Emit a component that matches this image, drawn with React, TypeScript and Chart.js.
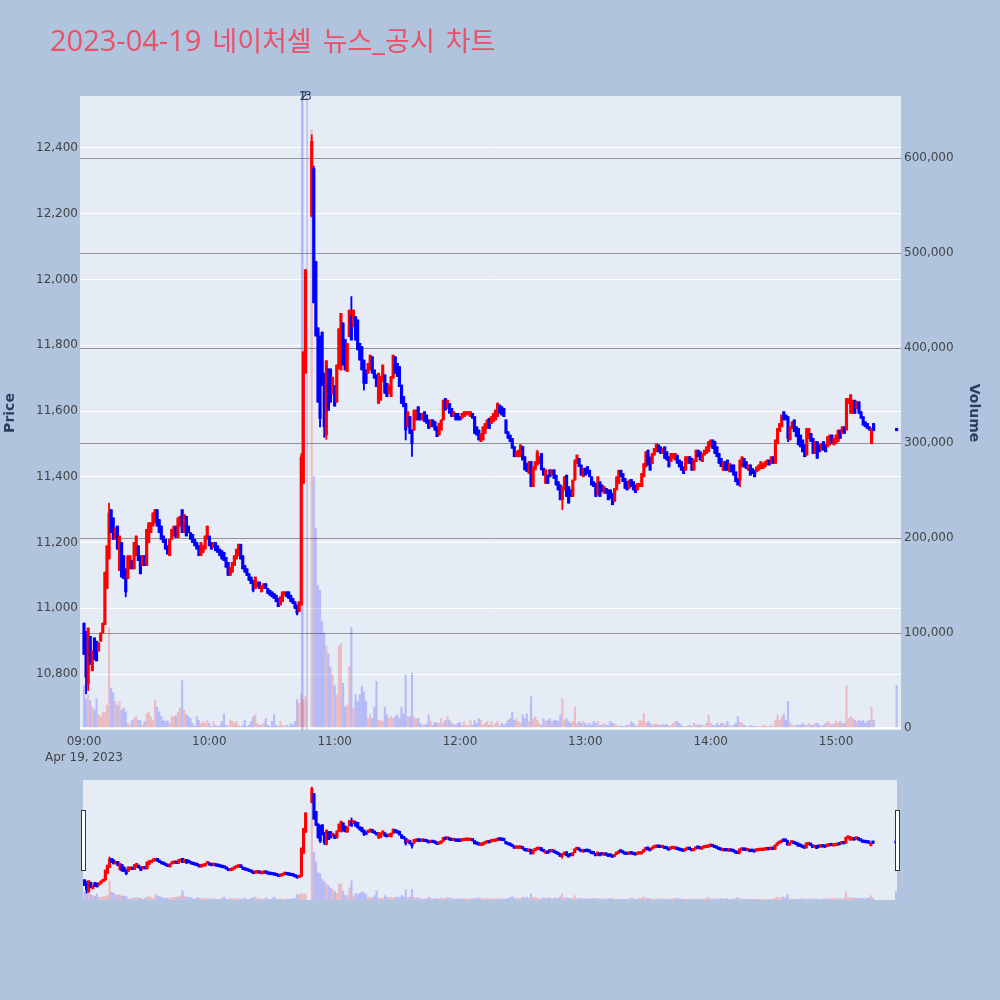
import React, { useEffect, useRef } from 'react';
import { Chart, registerables } from 'chart.js';

Chart.register(...registerables);

// ---------- text ----------
const TITLE = '2023-04-19 네이처셀 뉴스_공시 차트';
const DATE_LABEL = 'Apr 19, 2023';
const PRICE_TITLE = 'Price';
const VOLUME_TITLE = 'Volume';

// ---------- axes ----------
const X_TICKS = [0, 60, 120, 180, 240, 300, 360]; // minutes after 09:00
const X_TICK_LABELS = ['09:00', '10:00', '11:00', '12:00', '13:00', '14:00', '15:00'];
const PRICE_TICKS = [10800, 11000, 11200, 11400, 11600, 11800, 12000, 12200, 12400];
const VOLUME_TICKS = [0, 100000, 200000, 300000, 400000, 500000, 600000];

// ---------- 1-minute candles, index = minutes after 09:00 (null = no trade, VI halt) ----------
const OPEN = [
  10955, 10910, 10770, 10915, 10810, 10910, 10900, 10870, 10900, 10925,
  10950, 11060, 11150, 11300, 11275, 11210, 11250, 11115, 11200, 11160,
  11120, 11090, 11120, 11145, 11120, 11160, 11190, 11160, 11130, 11160,
  11130, 11200, 11230, 11250, 11260, 11300, 11270, 11250, 11220, 11210,
  11190, 11160, 11210, 11220, 11250, 11215, 11250, 11300, 11230, 11280,
  11250, 11230, 11225, 11210, 11200, 11190, 11160, 11170, 11180, 11210,
  11220, 11200, 11185, 11200, 11190, 11180, 11175, 11170, 11155, 11140,
  11100, 11110, 11130, 11150, 11160, 11195, 11160, 11130, 11120, 11105,
  11095, 11085, 11060, 11065, 11080, 11050, 11060, 11075, 11060, 11055,
  11050, 11045, 11040, 11030, 11010, 11020, 11040, 11050, 11050, 11040,
  11030, 11020, 11010, 10990, 11010, 11380, 11715, null, null, 12193,
  12337, 12055, 11853, 11828, 11840, 11715, 11527, 11728, 11728, 11652,
  11677, 11627, 11728, 11725, 11868, 11818, 11720, 11826, 11890, 11856,
  11887, 11877, 11806, 11796, 11755, 11725, 11715, 11725, 11765, 11725,
  11710, 11623, 11633, 11690, 11710, 11684, 11654, 11644, 11700, 11765,
  11745, 11735, 11679, 11644, 11623, 11552, 11583, 11542, 11542, 11573,
  11613, 11593, 11573, 11598, 11588, 11573, 11552, 11573, 11568, 11552,
  11527, 11542, 11573, 11638, 11608, 11623, 11608, 11583, 11593, 11593,
  11583, 11578, 11583, 11588, 11588, 11583, 11593, 11583, 11552, 11542,
  11507, 11512, 11532, 11547, 11578, 11562, 11568, 11573, 11583, 11618,
  11613, 11608, 11573, 11537, 11527, 11517, 11492, 11461, 11461, 11461,
  11492, 11461, 11441, 11410, 11446, 11370, 11421, 11436, 11441, 11471,
  11426, 11380, 11405, 11421, 11405, 11421, 11405, 11385, 11375, 11330,
  11360, 11405, 11370, 11360, 11340, 11390, 11441, 11456, 11436, 11400,
  11426, 11431, 11420, 11400, 11385, 11380, 11345, 11385, 11375, 11350,
  11365, 11360, 11360, 11350, 11325, 11360, 11380, 11420, 11410, 11395,
  11385, 11365, 11392, 11385, 11375, 11360, 11370, 11370, 11400, 11430,
  11481, 11460, 11440, 11466, 11476, 11497, 11491, 11471, 11491, 11476,
  11461, 11446, 11456, 11451, 11466, 11451, 11446, 11430, 11420, 11441,
  11461, 11456, 11420, 11446, 11481, 11476, 11446, 11466, 11471, 11476,
  11491, 11512, 11507, 11491, 11471, 11456, 11420, 11446, 11451, 11415,
  11436, 11436, 11415, 11395, 11390, 11430, 11456, 11446, 11420, 11436,
  11425, 11420, 11415, 11420, 11425, 11425, 11430, 11436, 11451, 11441,
  11461, 11441, 11501, 11537, 11552, 11598, 11588, 11583, 11512, 11547,
  11573, 11552, 11547, 11527, 11512, 11497, 11466, 11517, 11532, 11517,
  11471, 11507, 11497, 11481, 11507, 11497, 11491, 11497, 11527, 11497,
  11502, 11507, 11542, 11532, 11552, 11542, 11623, 11593, 11593, 11633,
  11608, 11628, 11598, 11583, 11567, 11562, 11552, 11502, 11562,
];
const CLOSE = [
  10860, 10790, 10940, 10830, 10870, 10845, 10840, 10895, 10925, 10955,
  11110, 11190, 11290, 11230, 11210, 11245, 11180, 11220, 11095, 11090,
  11050, 11160, 11160, 11120, 11200, 11220, 11145, 11105, 11160, 11130,
  11240, 11260, 11260, 11290, 11300, 11250, 11230, 11210, 11200, 11180,
  11165, 11210, 11240, 11250, 11215, 11275, 11280, 11230, 11285, 11220,
  11230, 11210, 11200, 11190, 11180, 11160, 11200, 11190, 11220, 11250,
  11190, 11180, 11200, 11175, 11170, 11160, 11150, 11145, 11125, 11100,
  11125, 11140, 11160, 11180, 11195, 11150, 11120, 11110, 11100, 11085,
  11075, 11055, 11095, 11080, 11060, 11070, 11075, 11060, 11045, 11040,
  11035, 11030, 11020, 11005, 11035, 11050, 11050, 11035, 11030, 11020,
  11015, 11000, 10985, 11020, 11460, 11780, 12030, null, null, 12420,
  11929, 11828, 11627, 11577, 11677, 11552, 11753, 11602, 11627, 11703,
  11615, 11740, 11850, 11897, 11740, 11725, 11806, 11907, 11816, 11907,
  11816, 11786, 11755, 11725, 11684, 11684, 11745, 11770, 11715, 11700,
  11674, 11715, 11705, 11740, 11654, 11644, 11679, 11705, 11770, 11715,
  11705, 11674, 11623, 11613, 11542, 11598, 11532, 11500, 11603, 11603,
  11573, 11573, 11593, 11568, 11563, 11547, 11573, 11552, 11542, 11522,
  11563, 11573, 11633, 11603, 11633, 11593, 11583, 11598, 11573, 11573,
  11573, 11593, 11598, 11598, 11598, 11598, 11578, 11532, 11527, 11512,
  11532, 11552, 11562, 11573, 11547, 11583, 11593, 11603, 11623, 11593,
  11588, 11583, 11532, 11517, 11507, 11487, 11461, 11476, 11481, 11497,
  11451, 11421, 11416, 11446, 11370, 11431, 11446, 11476, 11461, 11421,
  11405, 11421, 11380, 11400, 11421, 11395, 11375, 11360, 11330, 11370,
  11400, 11340, 11320, 11340, 11390, 11451, 11466, 11431, 11405, 11426,
  11405, 11410, 11400, 11375, 11370, 11340, 11400, 11340, 11355, 11370,
  11350, 11330, 11335, 11315, 11365, 11400, 11420, 11400, 11385, 11365,
  11360, 11390, 11370, 11360, 11352, 11380, 11380, 11410, 11440, 11476,
  11436, 11420, 11471, 11486, 11500, 11476, 11471, 11486, 11456, 11451,
  11430, 11471, 11471, 11471, 11441, 11430, 11420, 11410, 11461, 11461,
  11441, 11420, 11451, 11481, 11461, 11451, 11471, 11481, 11491, 11507,
  11512, 11486, 11471, 11461, 11441, 11431, 11446, 11420, 11420, 11441,
  11415, 11405, 11385, 11375, 11451, 11461, 11430, 11425, 11436, 11405,
  11410, 11400, 11430, 11436, 11446, 11441, 11446, 11451, 11436, 11461,
  11441, 11512, 11547, 11562, 11588, 11573, 11573, 11517, 11552, 11567,
  11537, 11522, 11497, 11491, 11476, 11461, 11547, 11547, 11507, 11471,
  11507, 11456, 11476, 11502, 11481, 11476, 11522, 11527, 11502, 11517,
  11527, 11542, 11517, 11552, 11532, 11638, 11638, 11649, 11633, 11593,
  11628, 11593, 11578, 11557, 11552, 11547, 11542, 11547, 11540,
];
// wick extremes that stick out beyond the candle body (minute -> price)
const WICK_HIGH: Record<number, number> = {
  1: 10930, 12: 11320, 104: 11470, 109: 12440, 110: 12345, 128: 11948,
  198: 11625, 217: 11481, 367: 11650,
};
const WICK_LOW: Record<number, number> = {
  1: 10740, 2: 10750, 20: 11035, 81: 11050, 102: 10980, 109: 12190, 113: 11552,
  115: 11520, 116: 11514, 134: 11664, 154: 11512, 157: 11462, 229: 11300,
  314: 11370, 337: 11507, 377: 11500,
};
const VOLUME = [
  45000, 31000, 35000, 29000, 22000, 19000, 31000, 14000, 12000, 17000,
  16000, 24000, 105000, 42000, 37000, 28000, 24000, 28000, 19000, 21000,
  17000, 5000, 3000, 8000, 10000, 12000, 8000, 8000, 3000, 7000,
  15000, 17000, 12000, 8000, 29000, 22000, 17000, 12000, 8000, 7000,
  8000, 5000, 12000, 12000, 13000, 17000, 21000, 50000, 19000, 14000,
  12000, 10000, 5000, 2000, 12000, 8000, 5000, 7000, 5000, 8000,
  5000, 1500, 7000, 3000, 1500, 3000, 7000, 15000, 3000, 1500,
  8000, 7000, 5000, 7000, 3000, 1500, 3000, 8000, 1500, 3000,
  7000, 12000, 14000, 5000, 3000, 3000, 5000, 10000, 3000, 1500,
  7000, 14000, 3000, 1500, 7000, 3000, 1500, 3000, 1500, 5000,
  3000, 7000, 30000, 26000, 35000, 30000, 33000, null, null, 630000,
  265000, 210000, 150000, 145000, 112000, 100000, 86000, 78000, 64000, 56000,
  45000, 35000, 86000, 89000, 47000, 22000, 24000, 65000, 106000, 21000,
  35000, 28000, 35000, 44000, 38000, 28000, 10000, 14000, 10000, 22000,
  49000, 8000, 8000, 7000, 22000, 14000, 10000, 12000, 10000, 12000,
  14000, 10000, 22000, 15000, 56000, 12000, 12000, 58000, 12000, 10000,
  10000, 5000, 3000, 3000, 4000, 14000, 7000, 3000, 6000, 5000,
  5000, 10000, 5000, 8000, 12000, 8000, 5000, 4000, 3000, 5000,
  6000, 3000, 7000, 3000, 3000, 8000, 3000, 8000, 5000, 10000,
  8000, 3000, 5000, 7000, 3000, 7000, 3000, 5000, 7000, 2000,
  5000, 3000, 5000, 8000, 10000, 17000, 8000, 10000, 7000, 5000,
  14000, 10000, 15000, 7000, 33000, 10000, 12000, 8000, 5000, 3000,
  10000, 7000, 8000, 10000, 7000, 8000, 8000, 7000, 14000, 31000,
  8000, 10000, 7000, 5000, 7000, 22000, 5000, 7000, 5000, 7000,
  5000, 3000, 5000, 3000, 7000, 5000, 7000, 3000, 3000, 5000,
  3000, 3000, 7000, 5000, 4000, 3000, 1500, 2000, 1500, 2000,
  3000, 3000, 7000, 5000, 2000, 3000, 8000, 7000, 15000, 5000,
  7000, 5000, 3000, 4000, 5000, 3000, 3000, 4000, 3000, 4000,
  2000, 3000, 5000, 7000, 7000, 5000, 3000, 1500, 1500, 2000,
  3000, 1500, 5000, 3000, 3000, 3000, 3000, 2000, 5000, 14000,
  5000, 3000, 2000, 5000, 3000, 5000, 5000, 3000, 7000, 3000,
  1500, 3000, 5000, 12000, 6000, 5000, 3000, 1500, 1500, 3000,
  1500, 2000, 1500, 1500, 1500, 2000, 3000, 1500, 1500, 3000,
  1500, 8000, 14000, 8000, 12000, 15000, 8000, 28000, 5000, 3000,
  1500, 3000, 3000, 3000, 5000, 3000, 3000, 5000, 3000, 3000,
  5000, 5000, 3000, 1500, 3000, 5000, 7000, 5000, 3000, 5000,
  7000, 5000, 7000, 5000, 5000, 44000, 10000, 12000, 10000, 8000,
  7000, 8000, 7000, 8000, 5000, 7000, 8000, 22000, 8000,
];
// closing single-price auction (15:29 bar)
const CLOSE_AUCTION_MINUTE = 389;
const CLOSE_AUCTION_PRICE = 11540;
const CLOSE_AUCTION_VOLUME = 45000;

// news / disclosure markers
const NEWS_MINUTES = [104.2, 104.8, 106.8];
const NEWS_LABELS = ['1', '2', '3'];

// ---------- style ----------
const PAGE_BG = '#b0c4de';
const PLOT_BG = '#e5ecf6';
const UP = '#ff0000';
const DOWN = '#0000ff';
const UP_VOL = 'rgba(255,0,0,0.2)';
const DOWN_VOL = 'rgba(0,0,255,0.2)';
const TITLE_COLOR = '#ea5068';
const TICK_COLOR = '#444444';
const AXIS_TITLE_COLOR = '#2a3f5f';
const FONT = '"DejaVu Sans", Verdana, sans-serif';

const PRICE_MIN = 10630;
const PRICE_MAX = 12558;
const VOL_MIN = -2100;
const VOL_MAX = 665300;

type Candle = { m: number; o: number; c: number; h: number; l: number; v: number };

function buildCandles(): Candle[] {
  const out: Candle[] = [];
  for (let i = 0; i < OPEN.length; i++) {
    const o = OPEN[i];
    const c = CLOSE[i];
    if (o == null || c == null) continue;
    out.push({
      m: i,
      o,
      c,
      h: WICK_HIGH[i] ?? Math.max(o, c),
      l: WICK_LOW[i] ?? Math.min(o, c),
      v: VOLUME[i] ?? 0,
    });
  }
  out.push({
    m: CLOSE_AUCTION_MINUTE,
    o: CLOSE_AUCTION_PRICE,
    c: CLOSE_AUCTION_PRICE,
    h: CLOSE_AUCTION_PRICE,
    l: CLOSE_AUCTION_PRICE,
    v: CLOSE_AUCTION_VOLUME,
  });
  return out;
}

function buildDatasets(bodyWidth: number): any[] {
  const candles = buildCandles();
  const isUp = (k: Candle) => k.c > k.o;
  return [
    {
      type: 'bar',
      label: 'Volume',
      yAxisID: 'y2',
      data: candles.map((k) => ({ x: k.m, y: k.v })),
      backgroundColor: candles.map((k) => (isUp(k) ? UP_VOL : DOWN_VOL)),
      barThickness: 1.5,
      grouped: false,
      order: 3,
    },
    {
      type: 'bar',
      label: 'Wick',
      yAxisID: 'y',
      data: candles.map((k) => ({ x: k.m, y: [k.l, k.h] })),
      backgroundColor: candles.map((k) => (isUp(k) ? UP : DOWN)),
      barThickness: 1.2,
      grouped: false,
      order: 2,
    },
    {
      type: 'bar',
      label: 'Body',
      yAxisID: 'y',
      data: candles.map((k) => ({ x: k.m, y: [Math.min(k.o, k.c), Math.max(k.o, k.c)] })),
      backgroundColor: candles.map((k) => (isUp(k) ? UP : DOWN)),
      barThickness: bodyWidth,
      minBarLength: 2.5,
      grouped: false,
      order: 1,
    },
  ];
}

const backgroundPlugin = {
  id: 'bgFill',
  beforeDraw(chart: any) {
    const { ctx, chartArea: a } = chart;
    ctx.save();
    ctx.fillStyle = PAGE_BG;
    ctx.fillRect(0, 0, chart.width, chart.height);
    ctx.fillStyle = PLOT_BG;
    ctx.fillRect(a.left, a.top, a.right - a.left, a.bottom - a.top);
    ctx.restore();
  },
};

type Run = { text: string; kind: 'hangul' | 'latin' | 'space' };
function splitRuns(s: string): Run[] {
  const runs: Run[] = [];
  for (const ch of s) {
    const kind: Run['kind'] = ch === ' ' ? 'space' : /[\u1100-\u11ff\u3130-\u318f\uac00-\ud7af]/.test(ch) ? 'hangul' : 'latin';
    const last = runs[runs.length - 1];
    if (last && last.kind === kind) last.text += ch;
    else runs.push({ text: ch, kind });
  }
  return runs;
}

const titlePlugin = {
  id: 'titleRuns',
  afterDraw(chart: any) {
    const ctx = chart.ctx;
    ctx.save();
    ctx.fillStyle = TITLE_COLOR;
    ctx.textAlign = 'left';
    ctx.textBaseline = 'alphabetic';
    let x = 50;
    for (const run of splitRuns(TITLE)) {
      if (run.kind === 'space') {
        x += 11 * run.text.length;
        continue;
      }
      ctx.font = run.kind === 'hangul' ? '27px "Noto Sans CJK KR"' : '29px "Open Sans"';
      ctx.fillText(run.text, x, 51);
      x += ctx.measureText(run.text).width;
    }
    ctx.restore();
  },
};

const newsPlugin = {
  id: 'newsMarkers',
  beforeDatasetsDraw(chart: any) {
    const { ctx, chartArea: a, scales } = chart;
    ctx.save();
    ctx.strokeStyle = 'rgba(99,110,250,0.45)';
    ctx.lineWidth = 1.2;
    NEWS_MINUTES.forEach((t) => {
      const px = scales.x.getPixelForValue(t);
      ctx.beginPath();
      ctx.moveTo(px, a.top);
      ctx.lineTo(px, a.bottom);
      ctx.stroke();
    });
    ctx.restore();
  },
  afterDraw(chart: any) {
    const { ctx, chartArea: a, scales } = chart;
    ctx.save();
    ctx.fillStyle = AXIS_TITLE_COLOR;
    ctx.font = `12px ${FONT}`;
    ctx.textAlign = 'center';
    ctx.textBaseline = 'middle';
    NEWS_MINUTES.forEach((t, i) => {
      const px = scales.x.getPixelForValue(t);
      ctx.fillText(NEWS_LABELS[i], px + 1, a.top + 1);
    });
    ctx.restore();
  },
};

const handlesPlugin = {
  id: 'sliderHandles',
  afterDraw(chart: any) {
    const { ctx, chartArea: a } = chart;
    ctx.save();
    ctx.fillStyle = '#ffffff';
    ctx.strokeStyle = '#333333';
    ctx.lineWidth = 1;
    const top = a.top + 30;
    const h = 60;
    [a.left - 2, a.right - 2].forEach((x) => {
      ctx.fillRect(x, top, 4, h);
      ctx.strokeRect(Math.round(x) + 0.5, top + 0.5, 4, h);
    });
    ctx.restore();
  },
};

const tickFont = { family: FONT, size: 12, lineHeight: 1.4 };

function mainConfig(): any {
  return {
    type: 'bar',
    data: { datasets: buildDatasets(2.5) },
    options: {
      animation: false,
      responsive: false,
      maintainAspectRatio: false,
      devicePixelRatio: 1,
      events: [],
      layout: { padding: { top: 96, left: 0, right: 0, bottom: 0 } },
      plugins: { legend: { display: false }, tooltip: { enabled: false }, title: { display: false } },
      scales: {
        x: {
          type: 'linear',
          min: -1.91,
          max: 391.1,
          offset: false,
          grid: { display: false, offset: false, drawTicks: false },
          border: { display: false },
          afterBuildTicks: (s: any) => {
            s.ticks = X_TICKS.map((v) => ({ value: v }));
          },
          afterFit: (s: any) => {
            s.height = 40;
          },
          ticks: {
            autoSkip: false,
            maxRotation: 0,
            minRotation: 0,
            padding: 3,
            color: TICK_COLOR,
            font: tickFont,
            callback: (v: any) => {
              const i = X_TICKS.indexOf(Number(v));
              if (i < 0) return '';
              return i === 0 ? [X_TICK_LABELS[i], DATE_LABEL] : X_TICK_LABELS[i];
            },
          },
        },
        y: {
          type: 'linear',
          position: 'left',
          min: PRICE_MIN,
          max: PRICE_MAX,
          grid: { color: '#ffffff', lineWidth: 1, drawTicks: false },
          border: { display: false },
          afterBuildTicks: (s: any) => {
            s.ticks = PRICE_TICKS.map((v) => ({ value: v }));
          },
          afterFit: (s: any) => {
            s.width = 80;
          },
          ticks: {
            padding: 2,
            color: TICK_COLOR,
            font: tickFont,
            callback: (v: any) => Number(v).toLocaleString('en-US'),
          },
          title: {
            display: true,
            text: PRICE_TITLE,
            color: AXIS_TITLE_COLOR,
            font: { family: FONT, size: 14, weight: 'bold' },
            padding: { top: 2, bottom: 0 },
          },
        },
        y2: {
          type: 'linear',
          position: 'right',
          min: VOL_MIN,
          max: VOL_MAX,
          grid: {
            color: (c: any) => (c.tick && c.tick.value === 0 ? '#ffffff' : '#939393'),
            lineWidth: (c: any) => (c.tick && c.tick.value === 0 ? 2 : 1),
            drawTicks: false,
          },
          border: { display: false },
          afterBuildTicks: (s: any) => {
            s.ticks = VOLUME_TICKS.map((v) => ({ value: v }));
          },
          afterFit: (s: any) => {
            s.width = 99;
          },
          ticks: {
            padding: 3,
            color: TICK_COLOR,
            font: tickFont,
            callback: (v: any) => Number(v).toLocaleString('en-US'),
          },
          title: {
            display: true,
            text: VOLUME_TITLE,
            color: AXIS_TITLE_COLOR,
            font: { family: FONT, size: 14, weight: 'bold' },
            padding: { top: 18, bottom: 0 },
          },
        },
      },
    },
    plugins: [backgroundPlugin, newsPlugin, titlePlugin],
  };
}

function sliderConfig(): any {
  return {
    type: 'bar',
    data: { datasets: buildDatasets(2.5) },
    options: {
      animation: false,
      responsive: false,
      maintainAspectRatio: false,
      devicePixelRatio: 1,
      events: [],
      layout: { padding: { top: 5, left: 8, right: 8, bottom: 5 } },
      plugins: { legend: { display: false }, tooltip: { enabled: false }, title: { display: false } },
      scales: {
        x: { type: 'linear', display: false, min: -0.72, max: 389.5, offset: false, grid: { offset: false } },
        y: { type: 'linear', display: false, min: PRICE_MIN, max: PRICE_MAX },
        y2: { type: 'linear', display: false, position: 'right', min: VOL_MIN, max: VOL_MAX },
      },
    },
    plugins: [backgroundPlugin, handlesPlugin],
  };
}

export default function App() {
  const mainRef = useRef<HTMLCanvasElement>(null);
  const sliderRef = useRef<HTMLCanvasElement>(null);

  useEffect(() => {
    document.body.style.margin = '0';
    const main = new Chart(mainRef.current as HTMLCanvasElement, mainConfig());
    const slider = new Chart(sliderRef.current as HTMLCanvasElement, sliderConfig());
    return () => {
      main.destroy();
      slider.destroy();
    };
  }, []);

  return (
    <div
      style={{
        position: 'absolute',
        left: 0,
        top: 0,
        width: 1000,
        height: 1000,
        background: PAGE_BG,
        overflow: 'hidden',
      }}
    >
      <canvas
        ref={mainRef}
        width={1000}
        height={770}
        style={{ position: 'absolute', left: 0, top: 0, width: 1000, height: 770 }}
      />
      <canvas
        ref={sliderRef}
        width={830}
        height={130}
        style={{ position: 'absolute', left: 75, top: 775, width: 830, height: 130 }}
      />
    </div>
  );
}
